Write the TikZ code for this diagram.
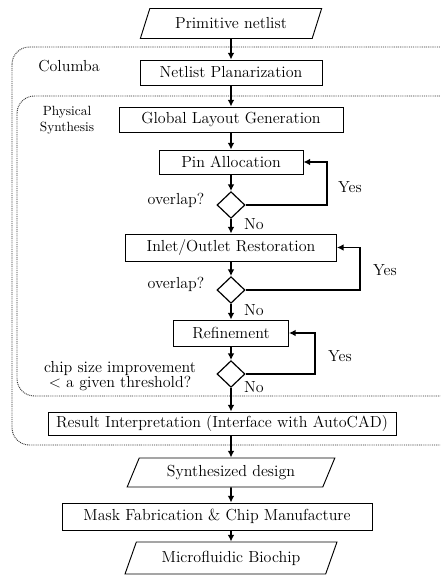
\documentclass[tikz,border=0pt]{standalone}
\usetikzlibrary{positioning}
\usetikzlibrary{arrows.meta, shapes, calc}

\begin{document}
\begin{tikzpicture}[x=0.75pt, y=-0.75pt, >={Latex[length=5pt,width=5pt]}, font=\fontsize{12}{14}\selectfont]%

            \tikzstyle{proc} = [ rectangle, draw = black!100, line width = 0.7pt, fill = white, inner sep = 0pt]
            \tikzstyle{io} = [ trapezium, trapezium left angle = 60, trapezium right angle = 120, trapezium stretches = true, draw = black!100, line width = 0.7pt, fill = white, inner sep = 0pt]
            \tikzstyle{dec} = [ diamond, draw = black!100, line width = 0.9pt, minimum width = 21pt, minimum height = 20pt, inner sep = 0pt]
            \tikzstyle{flow} = [ ->, line width = 1.4pt]
            \tikzstyle{region} = [ draw = black!80, dash pattern = on 0.7pt off 0.7pt, line width = 0.7pt, rounded corners = 13pt]
        %
            \useasboundingbox (0,0) rectangle (440,575);
            \clip (0,0) rectangle (440,575);

            %% Tool boundaries
            \draw[region] (12,47) rectangle (462,445);
            \draw[region] (17,96) rectangle (457,396);
            \node (lbl_col) at (69,66) {Columba};
            \node [align = center, font = \fontsize{10}{12}\selectfont] (lbl_phy) at (67,120) {Physical\\Synthesis};

            %% Main flow
            \node [io, minimum width = 137.25pt, minimum height = 22.5pt] (in_net) at (231,23.5) {Primitive netlist};
            \node [proc, minimum width = 136.5pt, minimum height = 18.75pt] (planar) at (231,72.5) {Netlist Planarization};
            \node [proc, minimum width = 168pt, minimum height = 18.75pt] (glob_lay) at (231,119.5) {Global Layout Generation};
            \node [proc, minimum width = 108pt, minimum height = 18pt] (pin_all) at (231,162) {Pin Allocation};
            \node [dec] (chk_pin) at (231,205) {};
            \node [proc, minimum width = 158.25pt, minimum height = 20.25pt] (io_rest) at (231,247.5) {Inlet/Outlet Restoration};
            \node [dec] (chk_io) at (231,290) {};
            \node [proc, minimum width = 86.25pt, minimum height = 19.5pt] (refine) at (231,333) {Refinement};
            \node [dec] (chk_ref) at (231,374) {};
            \node [proc, minimum width = 261pt, minimum height = 17.25pt] (result) at (222,423.5) {Result Interpretation (Interface with AutoCAD)};
            \node [io, minimum width = 156pt, minimum height = 21.75pt] (synth) at (231,472.5) {Synthesized design};
            \node [proc, minimum width = 232.5pt, minimum height = 20.25pt] (mask) at (217,516.5) {Mask Fabrication \& Chip Manufacture};
            \node [io, minimum width = 159pt, minimum height = 24pt] (chip) at (231,558) {Microfluidic Biochip};

            \draw[flow] (in_net) -- (planar);
            \draw[flow] (planar) -- (glob_lay);
            \draw[flow] (glob_lay) -- (pin_all);
            \draw[flow] (pin_all) -- (chk_pin);
            \draw[flow] (chk_pin) -- (io_rest);
            \draw[flow] (io_rest) -- (chk_io);
            \draw[flow] (chk_io) -- (refine);
            \draw[flow] (refine) -- (chk_ref);
            \draw[flow] (chk_ref) -- (chk_ref |- result.north);
            \draw[flow] (result.south -| chk_ref) -- (synth);
            \draw[flow] (synth) -- (synth |- mask.north);
            \draw[flow] (mask.south -| synth) -- (chip);

            %% Decisions
            \node [anchor = east] (q_pin) at (209,200) {overlap?};
            \node [anchor = east] (q_io) at (209,284) {overlap?};
            \node [align = center, font = \fontsize{12}{11.5}\selectfont] (q_ref) at (120,376) {chip size improvement\\$<$ a given threshold?};

            \node (no_pin) at (254,224) {No};
            \node (no_io) at (254,310) {No};
            \node (no_ref) at (254,387) {No};

            %% Loops back
            \coordinate (ret_pin) at (327,190);
            \coordinate (ret_io) at (360,270);
            \coordinate (ret_ref) at (315,356);
            \draw[flow] (chk_pin.east) -| (ret_pin) |- (pin_all.east);
            \draw[flow] (chk_io.east) -| (ret_io) |- (io_rest.east);
            \draw[flow] (chk_ref.east) -| (ret_ref) |- (refine.east);
            \node (yes_pin) at (350,187) {Yes};
            \node (yes_io) at (385,270) {Yes};
            \node (yes_ref) at (340,356) {Yes};

        \end{tikzpicture}
\end{document}
